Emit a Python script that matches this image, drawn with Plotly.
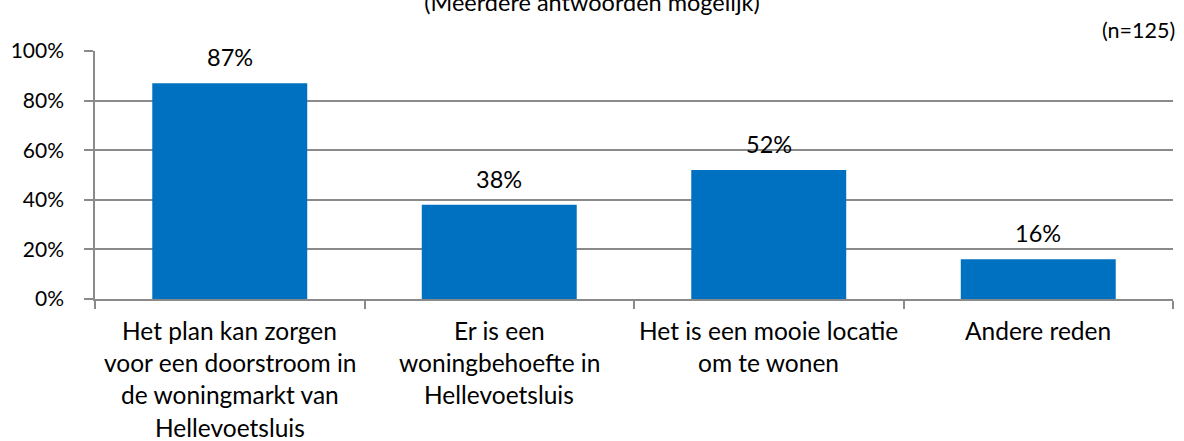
import plotly.graph_objects as go

categories = [
    "Het plan kan zorgen<br>voor een doorstroom in<br>de woningmarkt van<br>Hellevoetsluis",
    "Er is een<br>woningbehoefte in<br>Hellevoetsluis",
    "Het is een mooie locatie<br>om te wonen",
    "Andere reden",
]
values = [87, 38, 52, 16]
value_labels = ["87%", "38%", "52%", "16%"]
ytick_vals = [0, 20, 40, 60, 80, 100]
ytick_text = ["0%", "20%", "40%", "60%", "80%", "100%"]
title_text = "(Meerdere antwoorden mogelijk)"
n_text = "(n=125)"

FONT = "Lato, Carlito, Calibri, 'Open Sans', sans-serif"
BLACK = "#000000"
GRID = "#8a8a8a"

xs = list(range(len(categories)))

fig = go.Figure()
fig.add_trace(go.Bar(
    x=xs, y=values,
    marker=dict(color="#0070C0", line=dict(width=0)),
    width=0.575,
    hoverinfo="skip",
))

# data labels above bars
for i, (v, lab) in enumerate(zip(values, value_labels)):
    fig.add_annotation(
        x=i, xref="x", y=v, yref="y",
        text=lab, showarrow=False,
        xanchor="center", yanchor="middle", yshift=26,
        font=dict(family=FONT, size=23.5, color=BLACK),
    )

# category labels, one annotation per line for Excel-like line spacing
for i, cat in enumerate(categories):
    for j, line in enumerate(cat.split("<br>")):
        fig.add_annotation(
            x=i, xref="x", y=0, yref="paper",
            text=line, showarrow=False,
            xanchor="center", yanchor="middle",
            yshift=-(31 + j * 32.4),
            font=dict(family=FONT, size=24.5, color=BLACK),
        )

fig.add_annotation(
    x=1, xref="paper", y=1, yref="paper",
    text=n_text, showarrow=False,
    xanchor="right", yanchor="middle",
    xshift=4, yshift=21,
    font=dict(family=FONT, size=21.5, color=BLACK),
)

fig.update_layout(
    width=1184, height=441,
    margin=dict(l=95, r=11, t=51, b=142),
    paper_bgcolor="white", plot_bgcolor="white",
    showlegend=False,
    title=dict(
        text=title_text, x=0.5, xanchor="center",
        y=1 - 3 / 441, yanchor="middle", yref="container",
        font=dict(family=FONT, size=23.5, color=BLACK),
    ),
)

fig.update_xaxes(
    range=[-0.5, len(categories) - 0.5],
    tickvals=[k - 0.5 for k in range(len(categories) + 1)],
    ticktext=[""] * (len(categories) + 1),
    ticks="outside", ticklen=8, tickcolor=GRID, tickwidth=1.5,
    showline=True, linecolor=GRID, linewidth=1.5,
    showgrid=False, zeroline=False,
)
fig.update_yaxes(
    range=[0, 100],
    tickvals=ytick_vals, ticktext=ytick_text,
    ticks="outside", ticklen=9, tickcolor=GRID, tickwidth=1.5,
    ticklabelstandoff=16,
    showline=True, linecolor=GRID, linewidth=1.5,
    showgrid=True, gridcolor=GRID, gridwidth=1.5,
    zeroline=False,
    tickfont=dict(family=FONT, size=21, color=BLACK),
)

fig.write_html(
    "out.html",
    config={"displayModeBar": False},
    post_script=(
        "document.body.style.margin='0';"
        "document.body.style.padding='0';"
        "document.body.style.fontVariantLigatures='none';"
    ),
)
